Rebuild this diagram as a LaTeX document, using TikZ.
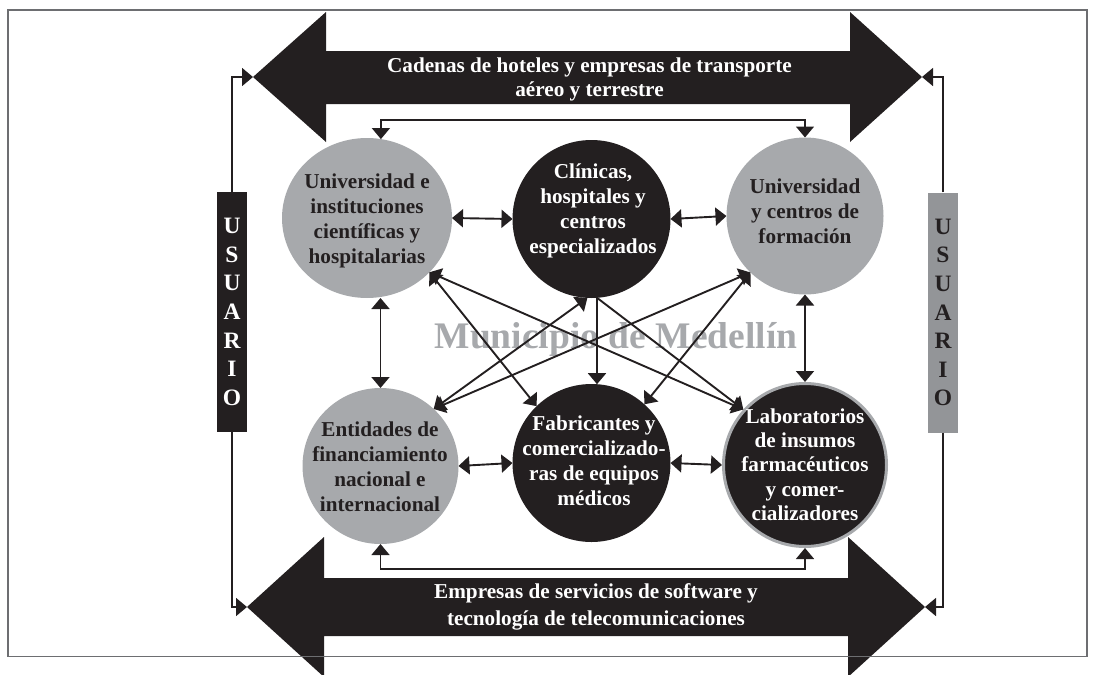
\documentclass[tikz,border=0pt]{standalone}
\usepackage{fontspec}
\setmainfont{Liberation Serif}
\usetikzlibrary{arrows.meta,shapes.geometric}
\definecolor{ink}{HTML}{231F20}
\definecolor{cgray}{HTML}{A7A9AC}
\definecolor{bgray}{HTML}{939598}
\definecolor{fgray}{HTML}{6D6E71}
\tikzset{
  tipA/.tip={Triangle[length=11pt,width=18pt]},
  dbl/.style={tipA-tipA, draw=ink, line width=1.9pt},
  one/.style={-tipA, draw=ink, line width=1.9pt},
  barc/.style={tipA-tipA, draw=ink, line width=1.5pt},
  uconn/.style={-tipA, draw=ink, line width=1.5pt},
  gcirc/.style={circle, fill=cgray, inner sep=0pt, outer sep=0pt, minimum size=#1},
  bcirc/.style={circle, fill=ink, inner sep=0pt, outer sep=0pt, minimum size=#1},
  ctext/.style={align=center, inner sep=0pt, font=\fontsize{21.2}{25}\selectfont\bfseries},
  ubox/.style={rectangle, minimum width=30pt, minimum height=240pt, inner sep=0pt,
    align=center, font=\fontsize{23.5}{28.6}\selectfont\bfseries},
  atext/.style={align=center, inner sep=0pt, text=white},
}
\begin{document}
\begin{tikzpicture}[x=1pt,y=-1pt]
\useasboundingbox (0,0) rectangle (1096,675);
% watermark
\node[font=\fontsize{37.5}{40}\selectfont\bfseries, text=cgray, anchor=base, inner sep=0pt] (wm) at (616,348) {Municipio de Medellín};
% big arrows
\fill[ink] (253,77) -- (326,12) -- (326,51) -- (850,51) -- (850,12) -- (922,77) -- (850,142) -- (850,104) -- (326,104) -- (326,142) -- cycle;
\fill[ink] (247,607) -- (324,537) -- (324,578) -- (848,578) -- (848,537) -- (925,607) -- (848,677) -- (848,636) -- (324,636) -- (324,677) -- cycle;
\node[atext, font=\fontsize{21.2}{24}\selectfont\bfseries] (ttext) at (589.5,79) {Cadenas de hoteles y empresas de transporte\\aéreo y terrestre};
\node[atext, font=\fontsize{21.2}{27}\selectfont\bfseries] (btext) at (596,607) {Empresas de servicios de software y\\tecnología de telecomunicaciones};
\coordinate (ttl) at (253,77);
\coordinate (ttr) at (922,77);
\coordinate (btl) at (247,607);
\coordinate (btr) at (925,607);
% frame (drawn over the big arrows)
\draw[fgray, line width=1.2pt] (8,10) rectangle (1087,656.5);
% usuario boxes
\node[ubox, fill=ink, text=white] (ul) at (232,312) {U\\S\\U\\A\\R\\I\\O};
\node[ubox, fill=bgray, text=ink] (ur) at (943,312.5) {U\\S\\U\\A\\R\\I\\O};
\draw[uconn] (ul.north) |- (ttl);
\draw[uconn] (ul.south) |- (btl);
\draw[uconn] (ur.north) |- (ttr);
\draw[uconn] (ur.south) |- (btr);
% circles
\node[ellipse, fill=cgray, inner sep=0pt, outer sep=0pt, minimum width=170pt, minimum height=160pt] (tl) at (367,218) {};
\node[bcirc=158pt] (tc) at (591.5,219) {};
\node[gcirc=157pt] (tr) at (805,216) {};
\node[gcirc=156pt] (bl) at (380.5,466) {};
\node[bcirc=158pt] (bc) at (591.5,463) {};
\node[bcirc=163pt, draw=cgray, line width=3pt, outer sep=1.5pt] (br) at (805,465) {};
% circle texts
\node[ctext, text=ink] (tlt) at (367,221) {Universidad e\\instituciones\\científicas y\\hospitalarias};
\node[ctext, text=white] (tct) at (593,210.5) {Clínicas,\\hospitales y\\centros\\especializados};
\node[ctext, text=ink] (trt) at (805,211) {Universidad\\y centros de\\formación};
\node[ctext, text=ink] (blt) at (380,467) {Entidades de\\financiamiento\\nacional e\\internacional};
\node[ctext, text=white] (bct) at (594,460.5) {Fabricantes y\\comercializado-\\ras de equipos\\médicos};
\node[ctext, text=white, font=\fontsize{21.2}{24.3}\selectfont\bfseries] (brt) at (805,464.5) {Laboratorios\\de insumos\\farmacéuticos\\y comer-\\cializadores};
% connectors
\draw[dbl] (tl.east) -- (tc.west);
\draw[dbl] (tc.east) -- (tr.west);
\draw[dbl] (bl.east) -- (bc.west);
\draw[dbl] (bc.east) -- (br.west);
\draw[dbl] (bl.north) -- (bl.north |- tl.south);
\draw[dbl] (br.north) -- (tr.south);
\draw[one] (tc.-86) -- (bc.86);
\draw[dbl] (tl.-41) -- (bc.134);
\draw[dbl] (tl.-41) -- (br.138);
\draw[dbl] (bl.47) -- (tc.-93);
\draw[dbl] (bl.47) -- (tr.-134);
\draw[dbl] (bc.48) -- (tr.-134);
\draw[one] (tc.-86) -- (br.138);
\coordinate (tbar) at (591,120);
\coordinate (bbar) at (591,569);
\draw[barc] (tl.80) |- (tbar) -| (tr.north);
\draw[barc] (bl.south) |- (bbar) -| (br.south);
\end{tikzpicture}
\end{document}
